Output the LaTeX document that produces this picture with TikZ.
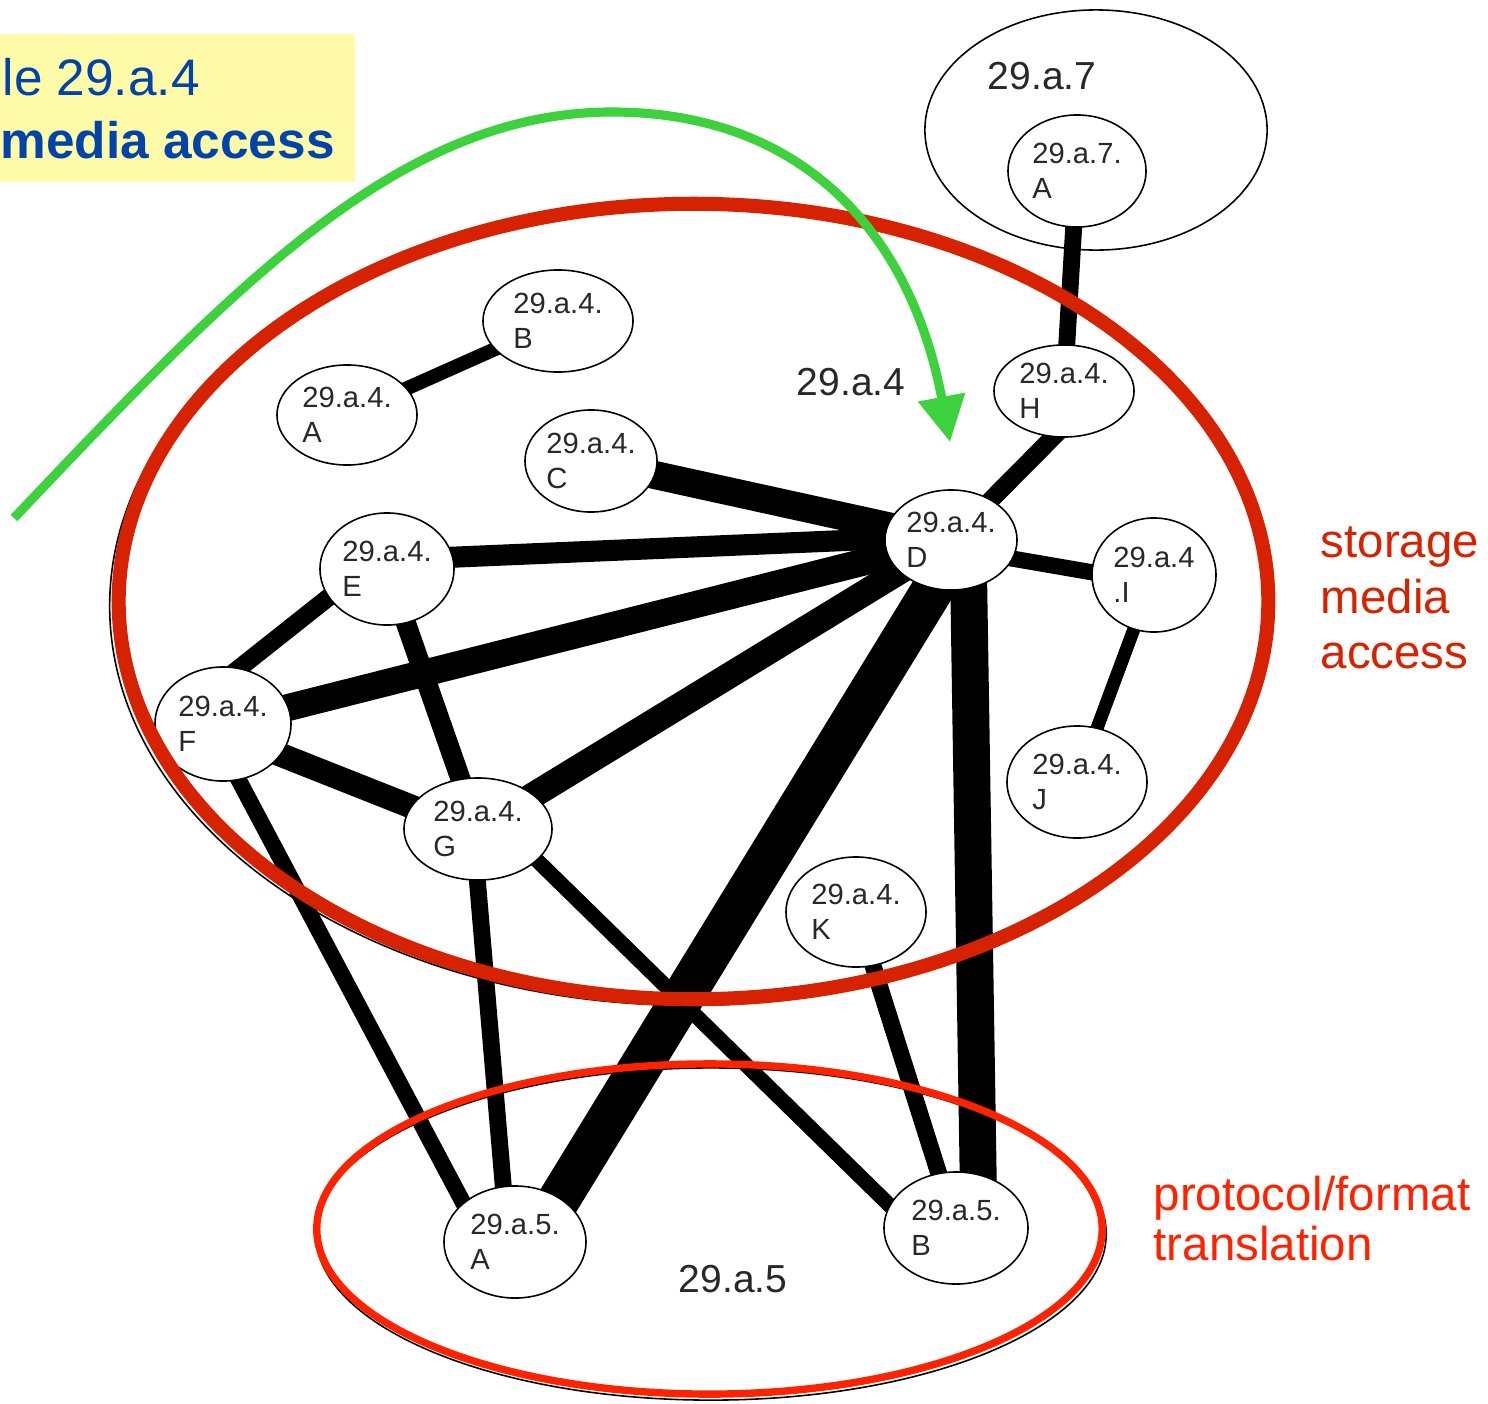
\documentclass[tikz,border=0pt]{standalone}
\usepackage{fontspec}
\setmainfont{Liberation Sans}
\usetikzlibrary{shapes.geometric,calc,arrows.meta}
\definecolor{grpred}{RGB}{214,34,0}
\definecolor{xlred}{RGB}{255,34,0}
\definecolor{arrowgreen}{RGB}{61,209,61}
\definecolor{notepaper}{RGB}{255,251,168}
\definecolor{noteblue}{RGB}{0,68,170}
\definecolor{inkgray}{RGB}{40,40,40}
\pgfdeclarelayer{bg}
\pgfsetlayers{bg,main}
\tikzset{
  module/.style={ellipse, draw=black, line width=0.45pt, fill=white, inner sep=0pt,
    align=left, text=inkgray, font=\fontsize{8.3}{10}\selectfont},
  link/.style={draw=black, line width=#1, line cap=butt},
  grouplabel/.style={text=inkgray, font=\fontsize{11.1}{13}\selectfont, inner sep=0pt},
  groupline/.style={draw=black, line width=0.45pt},
  redtext/.style={anchor=base west, inner sep=0pt, font=\fontsize{13.5}{16}\selectfont},
  notetext/.style={anchor=base west, inner sep=0pt, text=noteblue, font=\fontsize{14.6}{17}\selectfont}
}
\begin{document}
\begin{tikzpicture}[x=0.01cm,y=-0.01cm]
\useasboundingbox (0,0) rectangle (1488,1403);

% modules
\node[module, minimum width=1.38cm, minimum height=1.12cm] (m7a) at (1077,171) {29.a.7.\\A};
\node[module, minimum width=1.50cm, minimum height=1.02cm] (m4b) at (558,321) {29.a.4.\\B};
\node[module, minimum width=1.40cm, minimum height=1.00cm] (m4a) at (347,415) {29.a.4.\\A};
\node[module, minimum width=1.32cm, minimum height=1.02cm] (m4c) at (591,461) {29.a.4.\\C};
\node[module, minimum width=1.40cm, minimum height=0.92cm] (m4h) at (1064,391) {29.a.4.\\H};
\node[module, minimum width=1.32cm, minimum height=1.00cm] (m4d) at (951,540) {29.a.4.\\D};
\node[module, minimum width=1.24cm, minimum height=1.14cm] (m4i) at (1154,575) {29.a.4\\.I};
\node[module, minimum width=1.34cm, minimum height=1.12cm] (m4e) at (387,569) {29.a.4.\\E};
\node[module, minimum width=1.36cm, minimum height=1.14cm] (m4f) at (223,724) {29.a.4.\\F};
\node[module, minimum width=1.48cm, minimum height=1.02cm] (m4g) at (478,829) {29.a.4.\\G};
\node[module, minimum width=1.40cm, minimum height=1.12cm] (m4j) at (1077,782) {29.a.4.\\J};
\node[module, minimum width=1.40cm, minimum height=1.10cm] (m4k) at (856,912) {29.a.4.\\K};
\node[module, minimum width=1.42cm, minimum height=1.12cm] (m5a) at (515,1242) {29.a.5.\\A};
\node[module, minimum width=1.44cm, minimum height=1.12cm] (m5b) at (956,1228) {29.a.5.\\B};

% group names
\node[grouplabel] (g7) at (1042,76) {29.a.7};
\node[grouplabel] (g4) at (851,382) {29.a.4};
\node[grouplabel] (g5) at (733,1279) {29.a.5};

\begin{pgfonlayer}{bg}
  % group outlines
  \draw[groupline] (1096,130) ellipse [x radius=1.71cm, y radius=1.20cm];
  \draw[groupline] (711,1234) ellipse [x radius=3.95cm, y radius=1.66cm];
  \draw[groupline] (688,606) ellipse [x radius=5.78cm, y radius=3.99cm];
  % dependencies, width = strength
  \draw[link=4.8pt] (m7a.center) -- (m4h.center);
  \draw[link=4pt] (m4a.center) -- (m4b.center);
  \draw[link=5.1pt] (m4d.center) -- ($(m4h.center)+(20,15)$);
  \draw[link=8pt] (m4c.center) -- (m4d.center);
  \draw[link=6pt] ($(m4e.center)+(0,-9)$) -- ($(m4d.center)+(0,-4)$);
  \draw[link=7.7pt] (m4f.center) -- (m4d.center);
  \draw[link=7.4pt] (m4g.center) -- (m4d.center);
  \draw[link=12pt] ($(m4d.center)+(12,0)$) -- ($(m5a.center)+(18,0)$);
  \draw[link=10.5pt] ($(m4d.center)+(17,0)$) -- ($(m5b.center)+(23,0)$);
  \draw[link=4.6pt] ($(m4d.center)+(0,8)$) -- ($(m4i.center)+(0,8)$);
  \draw[link=3.7pt] (m4i.center) -- (m4j.center);
  \draw[link=5.1pt] ($(m4e.center)+(0,-18)$) -- ($(m4f.center)+(0,-43)$);
  \draw[link=5.7pt] (m4e.center) -- (m4g.center);
  \draw[link=6.8pt] ($(m4f.center)+(0,8)$) -- ($(m4g.center)+(0,4)$);
  \draw[link=4.6pt] ($(m4f.center)+(-14,0)$) -- ($(m5a.center)+(-31,0)$);
  \draw[link=4.8pt] ($(m4g.center)+(-5,0)$) -- ($(m5a.center)+(-7,0)$);
  \draw[link=4.3pt] ($(m4g.center)+(27,0)$) -- ($(m5b.center)+(-36,7)$);
  \draw[link=4.8pt] (m4k.center) -- (m5b.center);
\end{pgfonlayer}

% highlighted groups
\draw[grpred, line width=4pt] (693.5,601.5) ellipse [x radius=5.745cm, y radius=3.975cm];
\draw[xlred, line width=2.1pt] (709.5,1229) ellipse [x radius=3.925cm, y radius=1.65cm];

\node[redtext, text=grpred] (lbl1) at (1320,557) {storage};
\node[redtext, text=grpred] (lbl2) at (1320,613) {media};
\node[redtext, text=grpred] (lbl3) at (1320,668) {access};
\node[redtext, text=xlred] (lbl4) at (1153,1210) {protocol/format};
\node[redtext, text=xlred] (lbl5) at (1153,1260) {translation};

% swoop arrow into module D
\coordinate (swoopstart) at (14,518);
\coordinate (swooptip) at (950,442);
\draw[arrowgreen, line width=2.6pt, -{Triangle[length=13pt,width=13pt]}]
  (swoopstart) .. controls (235,285) and (400,112) .. (612,112)
  .. controls (800,112) and (910,230) .. (swooptip);

% title note
\fill[notepaper] (0,34) rectangle (355,182);
\node[notetext] (note1) at (2,95) {le 29.a.4};
\node[notetext, font=\bfseries\fontsize{14.6}{17}\selectfont] (note2) at (0,158) {media access};
\end{tikzpicture}
\end{document}
